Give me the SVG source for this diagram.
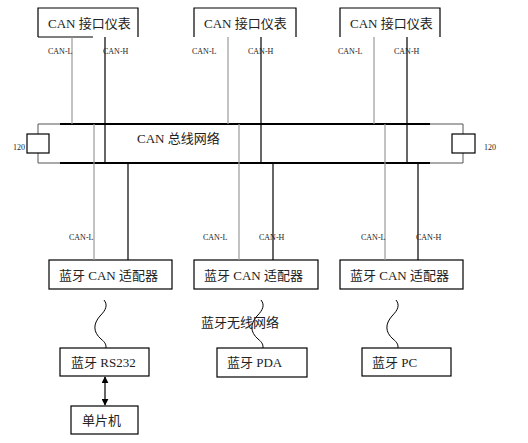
<svg xmlns="http://www.w3.org/2000/svg" width="528" height="443" viewBox="0 0 528 443">
<defs>
<style>
.t{font-family:"Liberation Serif","Noto Sans CJK SC",serif;font-size:13px;fill:#222}
.s{font-family:"Liberation Serif","Noto Sans CJK SC",serif;font-size:8px;fill:#222}
.box{fill:none;stroke:#000;stroke-width:1.2}
.g{stroke:#999;stroke-width:1.2;fill:none}
.k{stroke:#000;stroke-width:1.2;fill:none}
.bus{stroke:#000;stroke-width:2.2}
.thin{stroke:#555;stroke-width:1;fill:none}
.wave{stroke:#000;stroke-width:1;fill:none}
</style>
<marker id="ah" viewBox="0 0 10 10" refX="9" refY="5" markerWidth="7" markerHeight="7" orient="auto-start-reverse" markerUnits="userSpaceOnUse">
<path d="M0,0 L10,5 L0,10 z" fill="#000"/>
</marker>
</defs>
<rect width="528" height="443" fill="#fff"/>

<g id="meter1">
<path class="box" d="M38,37 V8 H138 V37 M38,37 H93"/>
<text class="t" x="48" y="28">CAN 接口仪表</text>
</g>
<g id="meter2">
<path class="box" d="M194,37 V8 H296 V37"/>
<text class="t" x="204" y="28">CAN 接口仪表</text>
</g>
<g id="meter3">
<path class="box" d="M340,37 V8 H440 V37"/>
<text class="t" x="350" y="28">CAN 接口仪表</text>
</g>

<g id="bus">
<path class="thin" d="M60,124 H38 V134 M38,153 V163 H60"/>
<path class="thin" d="M430,124 H463 V134 M463,153 V163 H430"/>
<line class="bus" x1="60" y1="124" x2="430" y2="124"/>
<line class="bus" x1="60" y1="163" x2="430" y2="163"/>
<text class="t" x="137" y="143">CAN 总线网络</text>
</g>
<g id="res-left">
<rect class="box" x="27" y="134" width="22" height="19"/>
<text class="s" x="13" y="150">120</text>
</g>
<g id="res-right">
<rect class="box" x="452" y="134" width="23" height="19"/>
<text class="s" x="484" y="150">120</text>
</g>

<g id="adapter1">
<rect class="box" x="49" y="260" width="123" height="29"/>
<text class="t" x="59" y="280">蓝牙 CAN 适配器</text>
</g>
<g id="adapter2">
<rect class="box" x="194" y="260" width="124" height="29"/>
<text class="t" x="204" y="280">蓝牙 CAN 适配器</text>
</g>
<g id="adapter3">
<rect class="box" x="340" y="260" width="123" height="29"/>
<text class="t" x="350" y="280">蓝牙 CAN 适配器</text>
</g>

<g id="rs232">
<rect class="box" x="60" y="348" width="89" height="28"/>
<text class="t" x="71" y="367">蓝牙 RS232</text>
</g>
<g id="pda">
<rect class="box" x="217" y="348" width="90" height="29"/>
<text class="t" x="227" y="367">蓝牙 PDA</text>
</g>
<g id="pc">
<rect class="box" x="362" y="348" width="89" height="28"/>
<text class="t" x="372" y="367">蓝牙 PC</text>
</g>
<g id="mcu">
<rect class="box" x="71" y="406" width="67" height="28"/>
<text class="t" x="82" y="425">单片机</text>
</g>

<g id="connectors">
<line class="g" x1="72" y1="37" x2="72" y2="124"/>
<line class="k" x1="105" y1="37" x2="105" y2="163"/>
<line class="g" x1="228" y1="37" x2="228" y2="124"/>
<line class="k" x1="261" y1="37" x2="261" y2="163"/>
<line class="g" x1="374" y1="37" x2="374" y2="124"/>
<line class="k" x1="407" y1="37" x2="407" y2="163"/>

<line class="g" x1="94" y1="124" x2="94" y2="260"/>
<line class="k" x1="128" y1="163" x2="128" y2="260"/>
<line class="g" x1="239" y1="124" x2="239" y2="260"/>
<line class="k" x1="273" y1="163" x2="273" y2="260"/>
<line class="g" x1="385" y1="124" x2="385" y2="260"/>
<line class="k" x1="418" y1="163" x2="418" y2="260"/>

<path class="wave" d="M104,300 C108,305 106,310 100,316 C93,324 93,332 101,339 C106,343 106,345 106,348"/>
<path class="wave" d="M261,300 C265,305 263,310 257,316 C250,324 250,332 258,339 C263,343 263,345 263,348"/>
<path class="wave" d="M396,300 C400,305 398,310 392,316 C385,324 385,332 393,339 C398,343 398,345 398,348"/>

<line class="k" x1="105" y1="377" x2="105" y2="405" marker-start="url(#ah)" marker-end="url(#ah)"/>

<text class="s" x="48" y="54">CAN-L</text>
<text class="s" x="103" y="54">CAN-H</text>
<text class="s" x="192" y="54">CAN-L</text>
<text class="s" x="248" y="54">CAN-H</text>
<text class="s" x="338" y="54">CAN-L</text>
<text class="s" x="394" y="54">CAN-H</text>

<text class="s" x="69" y="240">CAN-L</text>
<text class="s" x="203" y="240">CAN-L</text>
<text class="s" x="259" y="240">CAN-H</text>
<text class="s" x="361" y="240">CAN-L</text>
<text class="s" x="416" y="240">CAN-H</text>

<text class="t" x="201" y="327">蓝牙无线网络</text>
</g>
</svg>
